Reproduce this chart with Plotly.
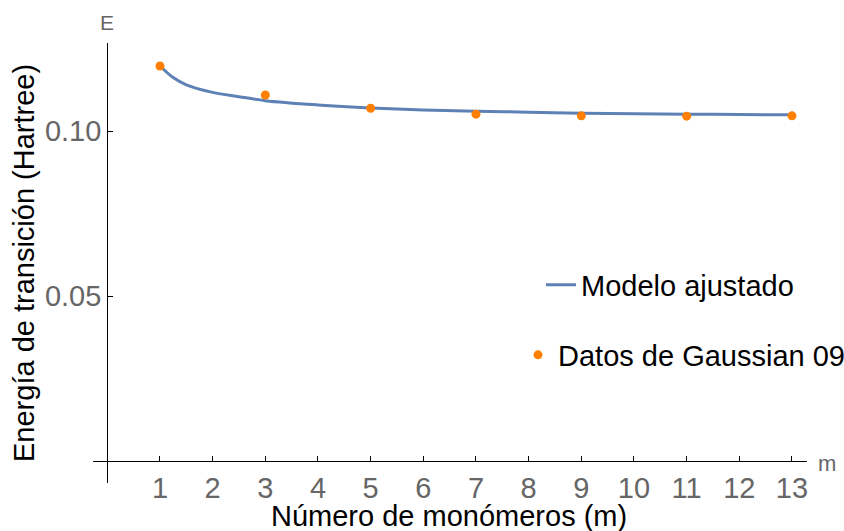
import plotly.graph_objects as go

# Gaussian 09 transition energies (Hartree) per number of monomers
monomeros = [1, 3, 5, 7, 9, 11, 13]
energia_g09 = [0.1197, 0.1109, 0.1069, 0.1051, 0.1046, 0.1045, 0.1046]

# Fitted model curve, sampled along m
m_modelo = [1, 1.25, 1.5, 2, 2.5, 3, 4, 5, 6, 7, 8, 9, 10, 11, 12, 13]
e_modelo = [0.1197, 0.1162, 0.1140, 0.1117, 0.1104, 0.1092, 0.1079, 0.1070,
            0.1064, 0.1060, 0.1057, 0.1054, 0.1052, 0.1051, 0.1050, 0.1049]

x_ticks = list(range(1, 14))
y_ticks = [0.05, 0.10]
y_ticktext = ["0.05", "0.10"]

FONT = "Liberation Sans, Arial, sans-serif"
AZUL = "#5E81B5"
NARANJA = "#FF8000"
GRIS = "#666666"

fig = go.Figure()
fig.add_trace(go.Scatter(
    x=m_modelo, y=e_modelo, mode="lines", name="Modelo ajustado",
    line=dict(color=AZUL, width=3, shape="spline", smoothing=1),
    legend="legend",
))
fig.add_trace(go.Scatter(
    x=monomeros, y=energia_g09, mode="markers", name="Datos de Gaussian 09",
    marker=dict(color=NARANJA, size=9),
    legend="legend2",
))

L, R, T, B = 93, 37, 43, 48
W, H = 844, 531
pw, ph = W - L - R, H - T - B


def px(x):
    return (x - L) / pw


def py(y):
    return (H - B - y) / ph


xr = [-0.272, 13.285]
yr = [-0.00667, 0.12667]

fig.update_layout(
    width=W, height=H,
    margin=dict(l=L, r=R, t=T, b=B, autoexpand=False),
    paper_bgcolor="white", plot_bgcolor="white",
    font=dict(family=FONT, size=29, color="black"),
    showlegend=True,
    xaxis=dict(
        range=xr, anchor="free", position=(0 - yr[0]) / (yr[1] - yr[0]),
        showgrid=False, zeroline=False,
        showline=True, linecolor="black", linewidth=1.3,
        tickmode="array", tickvals=x_ticks,
        ticks="inside", ticklen=5, tickwidth=1.3, tickcolor="black",
        tickfont=dict(family=FONT, size=29, color=GRIS),
        ticklabelstandoff=1,
    ),
    yaxis=dict(
        range=yr, anchor="free", position=(0 - xr[0]) / (xr[1] - xr[0]),
        showgrid=False, zeroline=False,
        showline=True, linecolor="black", linewidth=1.3,
        tickmode="array", tickvals=y_ticks, ticktext=y_ticktext,
        ticks="inside", ticklen=5, tickwidth=1.3, tickcolor="black",
        tickfont=dict(family=FONT, size=29, color=GRIS),
    ),
    legend=dict(
        x=px(541), y=py(285), xanchor="left", yanchor="middle",
        bgcolor="rgba(0,0,0,0)", font=dict(family=FONT, size=29, color="black"),
    ),
    legend2=dict(
        x=px(518), y=py(355), xanchor="left", yanchor="middle",
        bgcolor="rgba(0,0,0,0)", font=dict(family=FONT, size=29, color="black"),
    ),
    annotations=[
        dict(text="Número de monómeros (m)", x=px(448.5), y=py(515.5),
             xref="paper", yref="paper", showarrow=False,
             xanchor="center", yanchor="middle",
             font=dict(family=FONT, size=29, color="black")),
        dict(text="Energía de transición (Hartree)", x=px(24), y=py(263),
             xref="paper", yref="paper", showarrow=False, textangle=-90,
             xanchor="center", yanchor="middle",
             font=dict(family=FONT, size=29, color="black")),
        dict(text="E", x=px(107), y=py(22.5), xref="paper", yref="paper",
             showarrow=False, xanchor="center", yanchor="middle",
             font=dict(family=FONT, size=21, color=GRIS)),
        dict(text="m", x=px(827), y=py(463), xref="paper", yref="paper",
             showarrow=False, xanchor="center", yanchor="middle",
             font=dict(family=FONT, size=22, color=GRIS)),
    ],
)

fig.write_html("out.html")
